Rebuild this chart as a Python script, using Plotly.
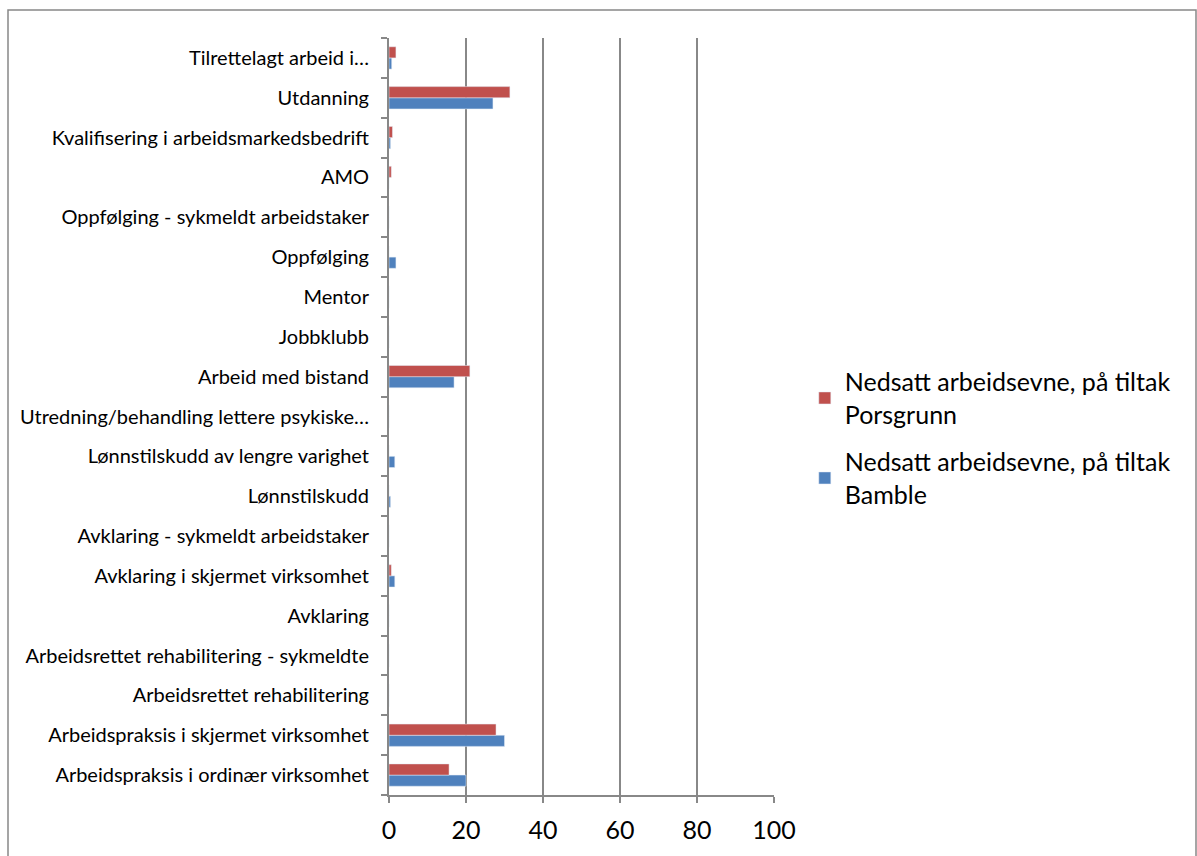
import plotly.graph_objects as go

categories = [
    "Arbeidspraksis i ordinær virksomhet",
    "Arbeidspraksis i skjermet virksomhet",
    "Arbeidsrettet rehabilitering",
    "Arbeidsrettet rehabilitering - sykmeldte",
    "Avklaring",
    "Avklaring i skjermet virksomhet",
    "Avklaring - sykmeldt arbeidstaker",
    "Lønnstilskudd",
    "Lønnstilskudd av lengre varighet",
    "Utredning/behandling lettere psykiske…",
    "Arbeid med bistand",
    "Jobbklubb",
    "Mentor",
    "Oppfølging",
    "Oppfølging - sykmeldt arbeidstaker",
    "AMO",
    "Kvalifisering i arbeidsmarkedsbedrift",
    "Utdanning",
    "Tilrettelagt arbeid i…",
]
porsgrunn = [15.6, 27.8, 0, 0, 0, 0.6, 0, 0, 0, 0, 21.0, 0, 0, 0, 0, 0.6, 0.9, 31.4, 1.8]
bamble = [20.0, 30.0, 0, 0, 0, 1.5, 0, 0.4, 1.5, 0, 16.9, 0, 0, 1.8, 0, 0, 0.4, 27.0, 0.7]
x_ticks = [0, 20, 40, 60, 80, 100]

FONT = "Lato"
fig = go.Figure()
fig.add_trace(go.Bar(y=categories, x=bamble, orientation="h",
                     name="Nedsatt arbeidsevne, på tiltak<br>Bamble",
                     legendgroup="b", legendrank=2,
                     marker=dict(color="#4F81BD")))
fig.add_trace(go.Bar(y=categories, x=porsgrunn, orientation="h",
                     name="Nedsatt arbeidsevne, på tiltak<br>Porsgrunn",
                     legendgroup="p", legendrank=1,
                     marker=dict(color="#C0504D")))

fig.update_layout(
    width=1197, height=856,
    margin=dict(l=389, r=423, t=38, b=61),
    paper_bgcolor="white", plot_bgcolor="white",
    barmode="group", bargap=0.44, bargroupgap=0,
    font=dict(family=FONT, color="black"),
    legend=dict(x=1.08, y=0.576, xanchor="left", yanchor="top",
                traceorder="grouped", font=dict(size=25, family=FONT),
                itemwidth=30, tracegroupgap=12),
    showlegend=True,
)
fig.update_xaxes(range=[0, 100], tickvals=x_ticks, showgrid=True,
                 gridcolor="#888888", gridwidth=2, showline=True,
                 linecolor="#888888", linewidth=2, ticks="outside",
                 tickcolor="#888888", ticklen=6, tickwidth=2,
                 ticklabelstandoff=6,
                 tickfont=dict(size=25, family=FONT), zeroline=False)
fig.update_yaxes(categoryorder="array", categoryarray=categories,
                 showline=True, linecolor="#888888", linewidth=2,
                 ticks="outside", tickson="boundaries", ticklen=6,
                 tickcolor="#888888", tickwidth=2, ticklabelstandoff=14,
                 tickfont=dict(size=20, family=FONT), showgrid=False)

fig.add_shape(type="rect", xref="paper", yref="paper",
              x0=(8 - 389) / 385, x1=(1196 - 389) / 385,
              y0=-(860 - 795) / 757, y1=(795 - 10) / 757,
              line=dict(color="#888888", width=1.5), layer="below")

fig.write_html("out.html")
